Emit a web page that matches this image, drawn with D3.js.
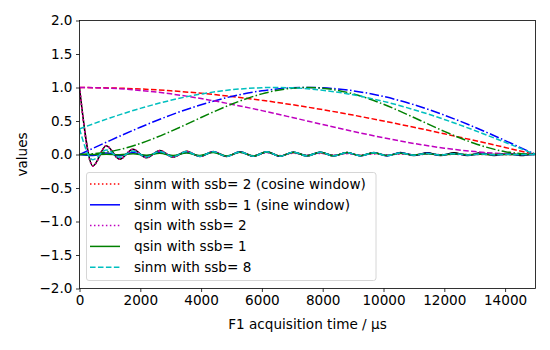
<!DOCTYPE html>
<html><head><meta charset="utf-8">
<script src="https://cdn.jsdelivr.net/npm/d3@7"></script>
<style>
html,body{margin:0;padding:0;background:#fff;}
text{font-family:"DejaVu Sans",sans-serif;}
</style></head>
<body><svg id="chart" width="550" height="350"></svg>
<script>
// ---- data ----
const winTimes = [0,1000,2000,3000,4000,5000,6000,7000,8000,9000,10000,11000,12000,13000,14000,15000];
const winCos   = [1,0.994,0.978,0.951,0.914,0.866,0.809,0.743,0.669,0.588,0.5,0.407,0.309,0.208,0.105,0];
const winSin   = [0,0.208,0.407,0.588,0.743,0.866,0.951,0.995,0.995,0.951,0.866,0.743,0.588,0.407,0.208,0];
const winCos2  = [1,0.989,0.957,0.905,0.835,0.75,0.655,0.552,0.448,0.345,0.25,0.165,0.095,0.043,0.011,0];
const winSin2  = [0,0.043,0.165,0.345,0.552,0.75,0.905,0.989,0.989,0.905,0.75,0.552,0.345,0.165,0.043,0];
const winSsb8  = [0.383,0.545,0.688,0.809,0.903,0.966,0.997,0.995,0.959,0.891,0.793,0.669,0.523,0.359,0.182,0];

const fidTimes = [0,440,880,1320,1760,2200,2640,3080,3520,3960,4400,4840,5280,5720,6160,6600,7040,7480,7920,8360,8800,9240,9680,10120,10560,11000,11440,11880,12320,12760,13200,13640,14080,14520,14960];
const fidRaw   = [1,-0.17,0.13,-0.07,0.08,-0.05,0.06,-0.04,0.05,-0.03,0.045,-0.03,0.04,-0.025,0.04,-0.025,0.035,-0.02,0.035,-0.02,0.03,-0.02,0.03,-0.02,0.03,-0.015,0.025,-0.015,0.025,-0.015,0.025,-0.015,0.02,-0.015,0.02];
const fidCos   = [1,-0.17,0.129,-0.069,0.079,-0.049,0.058,-0.038,0.047,-0.027,0.04,-0.026,0.034,-0.021,0.032,-0.019,0.026,-0.014,0.024,-0.013,0.018,-0.011,0.016,-0.01,0.013,-0.006,0.009,-0.005,0.007,-0.003,0.005,-0.002,0.002,-0.001,0];
const fidSin   = [0,-0.016,0.024,-0.019,0.029,-0.022,0.032,-0.024,0.034,-0.022,0.036,-0.025,0.036,-0.023,0.038,-0.025,0.035,-0.02,0.035,-0.02,0.029,-0.019,0.027,-0.017,0.024,-0.011,0.017,-0.009,0.013,-0.007,0.009,-0.004,0.004,-0.002,0];
const fidCos2  = [1,-0.17,0.129,-0.069,0.077,-0.047,0.056,-0.036,0.044,-0.025,0.036,-0.023,0.029,-0.017,0.026,-0.015,0.019,-0.01,0.016,-0.008,0.011,-0.006,0.008,-0.005,0.006,-0.002,0.003,-0.002,0.002,-0.001,0.001,0,0,0,0];
const fidSin2  = [0,-0.001,0.004,-0.005,0.01,-0.01,0.017,-0.014,0.023,-0.016,0.029,-0.022,0.032,-0.022,0.037,-0.024,0.035,-0.02,0.035,-0.019,0.028,-0.017,0.024,-0.015,0.019,-0.008,0.012,-0.006,0.007,-0.003,0.003,-0.001,0.001,0,0];
const fidSsb8  = [0.383,-0.078,0.068,-0.042,0.052,-0.036,0.046,-0.033,0.043,-0.027,0.042,-0.029,0.039,-0.025,0.04,-0.025,0.035,-0.02,0.034,-0.019,0.027,-0.017,0.025,-0.016,0.022,-0.01,0.015,-0.008,0.012,-0.006,0.008,-0.004,0.003,-0.001,0];

const legendLabels = ["sinm with ssb= 2 (cosine window)","sinm with ssb= 1 (sine window)","qsin with ssb= 2","qsin with ssb= 1","sinm with ssb= 8"];
const xTicks = [0,2000,4000,6000,8000,10000,12000,14000];
const yTicks = [-2,-1.5,-1,-0.5,0,0.5,1,1.5,2];

// ---- drawing ----
const svg = d3.select("#chart");
const L = 79.5, R = 535.5, T = 20.5, B = 288.5;
const x = d3.scaleLinear().domain([0,15000]).range([L,R]);
const y = d3.scaleLinear().domain([-2,2]).range([B,T]);
const FS = 13.6;

svg.append("defs").append("clipPath").attr("id","clip")
  .append("rect").attr("x",L).attr("y",T).attr("width",R-L).attr("height",B-T);

const g = svg.append("g").attr("clip-path","url(#clip)");
const DASH = "5.55,2.4", DASHDOT = "9.6,2.4,1.5,2.4", DOT = "1.5,2.475";
const C = {r:"#ff0000", b:"#0000ff", m:"#bf00bf", g:"#008000", c:"#00bfbf", k:"#000000"};

function draw(times, vals, color, dash, curve){
  const line = d3.line().x((d,i)=>x(times[i])).y(d=>y(d)).curve(curve);
  g.append("path").datum(vals).attr("d",line).attr("fill","none")
    .attr("stroke",color).attr("stroke-width",1.5)
    .attr("stroke-dasharray",dash||null).attr("stroke-linejoin","round");
}
const sm = d3.curveNatural, osc = d3.curveMonotoneX;
draw(fidTimes, fidRaw, C.k, null, osc);
draw(winTimes, winCos, C.r, DASH, sm);   draw(fidTimes, fidCos, C.r, DOT, osc);
draw(winTimes, winSin, C.b, DASHDOT, sm); draw(fidTimes, fidSin, C.b, null, osc);
draw(winTimes, winCos2, C.m, DASH, sm);  draw(fidTimes, fidCos2, C.m, DOT, osc);
draw(winTimes, winSin2, C.g, DASHDOT, sm); draw(fidTimes, fidSin2, C.g, null, osc);
draw(winTimes, winSsb8, C.c, DASH, sm);  draw(fidTimes, fidSsb8, C.c, DASH, osc);

// axes
const xAxis = d3.axisBottom(x).tickValues(xTicks).tickSizeOuter(0).tickSize(3.5).tickPadding(3.5).tickFormat(d3.format("d"));
const yAxis = d3.axisLeft(y).tickValues(yTicks).tickSizeOuter(0).tickSize(3.5).tickPadding(3.5)
  .tickFormat(d=>d3.format(".1f")(d).replace("-","\u2212"));
const gx = svg.append("g").attr("transform",`translate(0,${B})`).call(xAxis);
const gy = svg.append("g").attr("transform",`translate(${L},0)`).call(yAxis);
[gx,gy].forEach(a=>{
  a.select(".domain").remove();
  a.selectAll("text").attr("font-size",FS).attr("font-family","DejaVu Sans").attr("fill","#000");
  a.selectAll("line").attr("stroke","#000").attr("stroke-width",0.8);
});
svg.append("rect").attr("x",L).attr("y",T).attr("width",R-L).attr("height",B-T)
  .attr("fill","none").attr("stroke","#000").attr("stroke-width",0.8);

svg.append("text").attr("x",(L+R)/2).attr("y",329).attr("text-anchor","middle")
  .attr("font-size",FS).text("F1 acquisition time / \u03bcs");
svg.append("text").attr("transform",`translate(27,${(T+B)/2}) rotate(-90)`).attr("text-anchor","middle")
  .attr("font-size",FS).text("values");

// legend
const lg = svg.append("g");
const lx = 86.5, ly = 172.5, lw = 289.5, lh = 108;
lg.append("rect").attr("x",lx).attr("y",ly).attr("width",lw).attr("height",lh).attr("rx",2.5)
  .attr("fill","#fff").attr("fill-opacity",0.8).attr("stroke","#cccccc").attr("stroke-width",0.8);
const legStyles = [[C.r,DOT],[C.b,null],[C.m,DOT],[C.g,null],[C.c,DASH]];
legendLabels.forEach((lab,i)=>{
  const yy = 184 + i*20.8;
  lg.append("line").attr("x1",90).attr("x2",120).attr("y1",yy).attr("y2",yy)
    .attr("stroke",legStyles[i][0]).attr("stroke-width",1.5).attr("stroke-dasharray",legStyles[i][1]);
  lg.append("text").attr("x",134).attr("y",yy).attr("dy","0.36em").attr("font-size",FS).text(lab);
});
</script></body></html>
